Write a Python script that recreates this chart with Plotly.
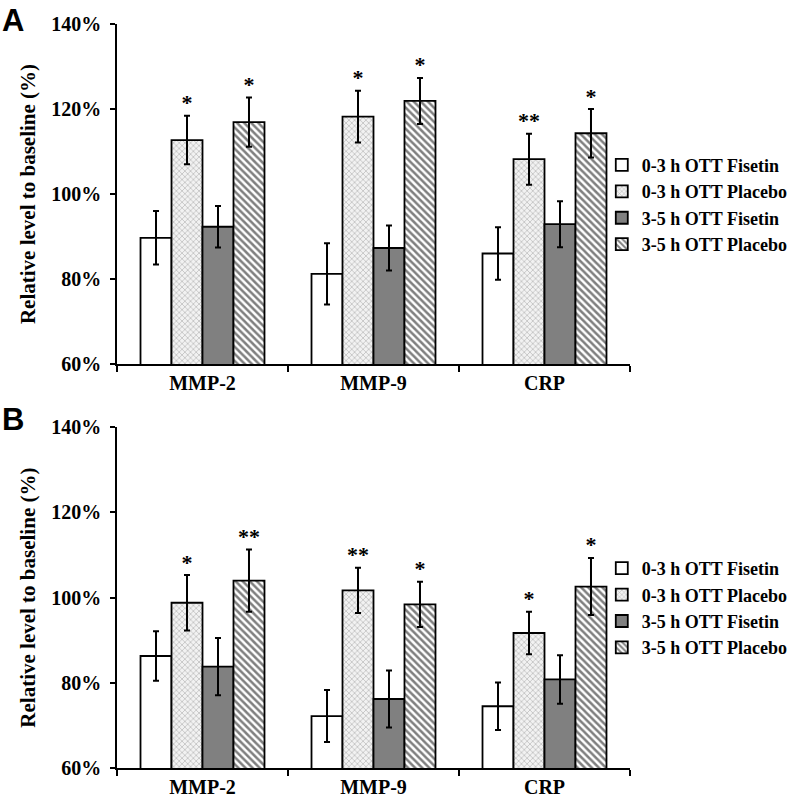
import plotly.graph_objects as go

categories = ["MMP-2", "MMP-9", "CRP"]
series_names = ["0-3 h OTT Fisetin", "0-3 h OTT Placebo", "3-5 h OTT Fisetin", "3-5 h OTT Placebo"]

# Panel A values (%), errors
a_fis03 = [89.7, 81.2, 86.0]
a_pla03 = [112.7, 118.2, 108.2]
a_fis35 = [92.3, 87.3, 92.9]
a_pla35 = [116.9, 121.9, 114.3]
a_err_fis03 = [6.3, 7.2, 6.2]
a_err_pla03 = [5.7, 6.1, 6.0]
a_err_fis35 = [4.9, 5.3, 5.4]
a_err_pla35 = [5.8, 5.4, 5.7]
a_sig_fis03 = ["", "", ""]
a_sig_pla03 = ["*", "*", "**"]
a_sig_fis35 = ["", "", ""]
a_sig_pla35 = ["*", "*", "*"]

# Panel B values (%), errors
b_fis03 = [86.3, 72.2, 74.5]
b_pla03 = [98.8, 101.7, 91.7]
b_fis35 = [83.8, 76.2, 80.8]
b_pla35 = [104.0, 98.4, 102.6]
b_err_fis03 = [5.8, 6.1, 5.6]
b_err_pla03 = [6.5, 5.3, 5.0]
b_err_fis35 = [6.7, 6.7, 5.7]
b_err_pla35 = [7.3, 5.3, 6.7]
b_sig_fis03 = ["", "", ""]
b_sig_pla03 = ["*", "**", "*"]
b_sig_fis35 = ["", "", ""]
b_sig_pla35 = ["**", "*", "*"]

y_ticks = [60, 80, 100, 120, 140]
y_ticktext = ["60%", "80%", "100%", "120%", "140%"]
y_title = "Relative level to baseline (%)"

SERIF = "Liberation Serif"

styles = [
    dict(color="white", pattern=None),
    dict(color="white", pattern=dict(shape="x", fgcolor="#6e6e6e", bgcolor="#f2f2f2", size=4, solidity=0.28)),
    dict(color="#808080", pattern=None),
    dict(color="white", pattern=dict(shape="\\", fgcolor="black", bgcolor="white", size=5, solidity=0.5)),
]

fig = go.Figure()

panels = [
    ("x", "y", "legend",
     [a_fis03, a_pla03, a_fis35, a_pla35],
     [a_err_fis03, a_err_pla03, a_err_fis35, a_err_pla35],
     [a_sig_fis03, a_sig_pla03, a_sig_fis35, a_sig_pla35]),
    ("x2", "y2", "legend2",
     [b_fis03, b_pla03, b_fis35, b_pla35],
     [b_err_fis03, b_err_pla03, b_err_fis35, b_err_pla35],
     [b_sig_fis03, b_sig_pla03, b_sig_fis35, b_sig_pla35]),
]

for xa, ya, leg, vals, errs, sigs in panels:
    for i, name in enumerate(series_names):
        st = styles[i]
        marker = dict(color=st["color"], line=dict(color="black", width=1.8))
        if st["pattern"] is not None:
            marker["pattern"] = st["pattern"]
        fig.add_trace(go.Bar(
            x=categories, y=vals[i], name=name, xaxis=xa, yaxis=ya,
            legend=leg, offsetgroup=f"g{i}", alignmentgroup=f"a{xa}",
            marker=marker,
            error_y=dict(type="data", array=errs[i], color="black", thickness=2, width=3),
        ))
    for i, name in enumerate(series_names):
        fig.add_trace(go.Scatter(
            x=categories, y=[v + e for v, e in zip(vals[i], errs[i])],
            text=sigs[i], mode="text", textposition="top center",
            textfont=dict(family=SERIF, size=22, color="black", weight="bold"),
            xaxis=xa, yaxis=ya, showlegend=False, offsetgroup=f"g{i}",
            alignmentgroup=f"a{xa}", cliponaxis=False, hoverinfo="skip",
        ))

fig.update_layout(
    width=792, height=798,
    margin=dict(l=117, r=162, t=24, b=30, autoexpand=False),
    paper_bgcolor="white", plot_bgcolor="white",
    font=dict(family=SERIF, size=18, color="black"),
    barmode="group", bargap=0.275, bargroupgap=0,
    scattermode="group", scattergap=0.275,
    xaxis=dict(anchor="y", domain=[0, 1]),
    yaxis=dict(anchor="x", domain=[0.543, 1.0]),
    xaxis2=dict(anchor="y2", domain=[0, 1]),
    yaxis2=dict(anchor="x2", domain=[0.0, 0.458]),
    showlegend=True,
)

fig.update_xaxes(
    showline=True, linecolor="black", linewidth=1.5, ticks="outside",
    tickson="boundaries", ticklen=6, tickwidth=1.5, tickcolor="black",
    tickfont=dict(family=SERIF, size=20, color="black", weight="bold"),
    showgrid=False, zeroline=False, automargin=False, ticklabelstandoff=0,
)
fig.update_yaxes(
    showline=True, linecolor="black", linewidth=1.5, ticks="outside",
    ticklen=5, tickwidth=1.5, tickcolor="black",
    tickmode="array", tickvals=y_ticks, ticktext=y_ticktext,
    range=[60, 140], showgrid=False, zeroline=False, automargin=False,
    tickfont=dict(family=SERIF, size=20, color="black", weight="bold"),
    ticklabelstandoff=5,
    title_text=y_title, title_standoff=10,
    title_font=dict(family=SERIF, size=21, color="black", weight="bold"),
)

legend_font = dict(family=SERIF, size=18, color="black", weight="bold")
fig.update_layout(
    legend=dict(font=legend_font, bgcolor="rgba(0,0,0,0)", tracegroupgap=0,
                itemwidth=30, xanchor="left", yanchor="top", x=0.945, y=0.835),
    legend2=dict(font=legend_font, bgcolor="rgba(0,0,0,0)", tracegroupgap=0,
                 itemwidth=30, xanchor="left", yanchor="top", x=0.945, y=0.293),
)

letter_font = dict(family="Liberation Sans", size=31, color="black", weight="bold")
fig.add_annotation(text="A", xref="paper", yref="paper", x=-0.228, y=1.031,
                   xanchor="left", yanchor="top", showarrow=False, font=letter_font)
fig.add_annotation(text="B", xref="paper", yref="paper", x=-0.228, y=0.495,
                   xanchor="left", yanchor="top", showarrow=False, font=letter_font)

fig.write_html("out.html", config={"displayModeBar": False},
               post_script="document.body.style.margin='0';")
